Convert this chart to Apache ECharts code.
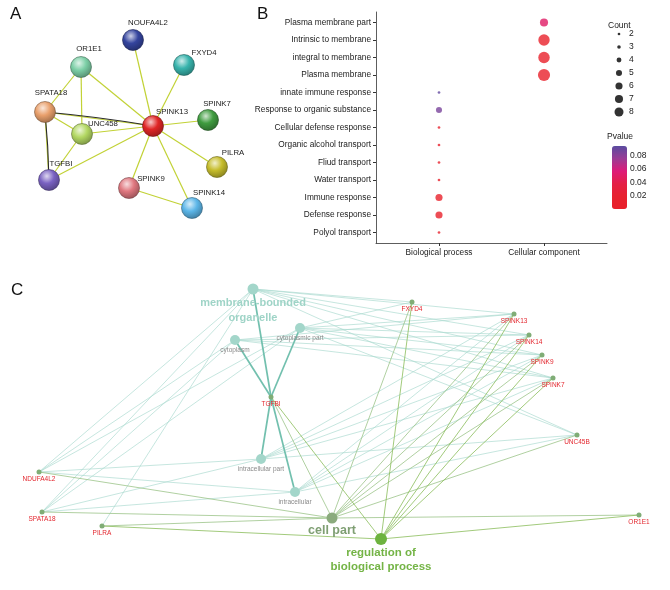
<!DOCTYPE html>
<html><head><meta charset="utf-8">
<script src="https://cdn.jsdelivr.net/npm/echarts@6/dist/echarts.min.js"></script>
<style>html,body{margin:0;padding:0;background:#fff}#c{width:670px;height:590px}</style>
</head><body><div id="c"></div>
<script>
// ---------------- Panel A : STRING network ----------------
const aGenes = ['NOUFA4L2','OR1E1','FXYD4','SPATA18','SPINK13','SPINK7','UNC458','PILRA','TGFBI','SPINK9','SPINK14'];
const aX = [133, 81, 184, 45, 153, 208, 82, 217, 49, 129, 192];
const aY = [40, 67, 65, 112, 126, 120, 134, 167, 180, 188, 208];
const aLinks = [
  ['SPINK13','NOUFA4L2'],['SPINK13','FXYD4'],['SPINK13','SPINK7'],['SPINK13','PILRA'],
  ['SPINK13','SPINK14'],['SPINK13','SPINK9'],['SPINK13','TGFBI'],['SPINK13','UNC458'],
  ['SPINK13','SPATA18'],['SPINK13','OR1E1'],['OR1E1','SPATA18'],['OR1E1','UNC458'],
  ['SPATA18','UNC458'],['SPATA18','TGFBI'],['UNC458','TGFBI'],['SPINK9','SPINK14']
];
const aBlackLinks = [['SPATA18','SPINK13'],['SPATA18','TGFBI']];

// ---------------- Panel B : GO dot plot ----------------
const bTerms = ['Polyol transport','Defense response','Immune response','Water transport','Fliud transport',
  'Organic alcohol transport','Cellular defense response','Response to organic substance','innate immune response',
  'Plasma membrane','integral to membrane','Intrinsic to membrane','Plasma membrane part'];
const bGroups = ['Biological process','Cellular component'];
const bTermGroup = ['Biological process','Biological process','Biological process','Biological process','Biological process',
  'Biological process','Biological process','Biological process','Biological process',
  'Cellular component','Cellular component','Cellular component','Cellular component'];
const bCount = [2, 6, 6, 2, 2, 2, 2, 5, 2, 12, 11, 11, 7];
const bPvalue = [0.014, 0.004, 0.004, 0.014, 0.014, 0.014, 0.014, 0.085, 0.092, 0.004, 0.004, 0.004, 0.05];
const countBreaks = [2, 3, 4, 5, 6, 7, 8];
const pvalueTicks = [0.02, 0.04, 0.06, 0.08];
const pvalueRange = [0.001, 0.094];

// ---------------- Panel C : gene / GO term network ----------------
const cNodes = ['membrane-bounded\norganelle','cytoplasmic part','cytoplasm','intracellular part','intracellular',
  'cell part','regulation of\nbiological process',
  'TGFBI','FXYD4','SPINK13','SPINK14','SPINK9','SPINK7','UNC45B','OR1E1','NDUFA4L2','SPATA18','PILRA'];
const cX = [253, 300, 235, 261, 295, 332, 381, 271, 412, 514, 529, 542, 553, 577, 639, 39, 42, 102];
const cY = [289, 328, 340, 459, 492, 518, 539, 397, 302, 314, 335, 355, 378, 435, 515, 472, 512, 526];
const cKind = ['cc','ccs','ccs','ccs','ccs','cellpart','reg','gene','gene','gene','gene','gene','gene','gene','gene','gene','gene','gene'];
const MBO = 'membrane-bounded\norganelle', CP = 'cytoplasmic part', CY = 'cytoplasm', IP = 'intracellular part', IC = 'intracellular';
const CELL = 'cell part', REG = 'regulation of\nbiological process';
const cLinksCC = [
  ['NDUFA4L2',MBO],['NDUFA4L2',CY],['NDUFA4L2',CP],['NDUFA4L2',IP],['NDUFA4L2',IC],
  ['SPATA18',MBO],['SPATA18',CY],['SPATA18',CP],['SPATA18',IP],['SPATA18',IC],
  ['PILRA',MBO],['FXYD4',MBO],['FXYD4',CP],
  ['SPINK13',MBO],['SPINK13',CY],['SPINK13',CP],['SPINK13',IP],['SPINK13',IC],
  ['SPINK14',MBO],['SPINK14',CY],['SPINK14',CP],['SPINK14',IP],['SPINK14',IC],
  ['SPINK9',MBO],['SPINK9',CY],['SPINK9',CP],['SPINK9',IP],['SPINK9',IC],
  ['SPINK7',MBO],['SPINK7',CY],['SPINK7',CP],['SPINK7',IP],['SPINK7',IC],
  ['UNC45B',MBO],['UNC45B',CP],['UNC45B',IP],['UNC45B',IC]
];
const cLinksTGFBI = [['TGFBI',MBO],['TGFBI',CY],['TGFBI',CP],['TGFBI',IP],['TGFBI',IC]];
const cLinksCell = ['NDUFA4L2','SPATA18','PILRA','TGFBI','FXYD4','SPINK13','SPINK14','SPINK9','SPINK7','UNC45B','OR1E1'];
const cLinksReg = ['PILRA','TGFBI','FXYD4','SPINK13','SPINK14','SPINK9','SPINK7','OR1E1'];

// ---------------- styles ----------------
const NARROW = '"Liberation Sans",Arial,sans-serif';
const ARIAL = '"Liberation Sans",Arial,sans-serif';
const aColors = {NOUFA4L2:'#34449e',OR1E1:'#7ccfa6',FXYD4:'#38b4ad',SPATA18:'#e9a06c',SPINK13:'#e02626',
  SPINK7:'#3f9c3f',UNC458:'#b3d863',PILRA:'#c6bd2c',TGFBI:'#7a62c2',SPINK9:'#e07880',SPINK14:'#5cb6e8'};
const aLabelOffset = {NOUFA4L2:[15,-17],OR1E1:[8,-18],FXYD4:[20,-12],SPATA18:[6,-19],SPINK13:[19,-14],
  SPINK7:[9,-16],UNC458:[21,-10],PILRA:[16,-14],TGFBI:[12,-16],SPINK9:[22,-9],SPINK14:[17,-15]};
function shade(hex, f) {
  const n = parseInt(hex.slice(1), 16);
  let r = n >> 16, g = (n >> 8) & 255, b = n & 255;
  if (f > 0) { r += (255 - r) * f; g += (255 - g) * f; b += (255 - b) * f; }
  else { r *= 1 + f; g *= 1 + f; b *= 1 + f; }
  return 'rgb(' + Math.round(r) + ',' + Math.round(g) + ',' + Math.round(b) + ')';
}
function sphere(hex) {
  return { type: 'radial', x: 0.4, y: 0.32, r: 0.75, colorStops: [
    { offset: 0, color: shade(hex, 0.75) }, { offset: 0.45, color: hex }, { offset: 1, color: shade(hex, -0.35) } ] };
}
function dotSize(c) { return Math.max(2.7, 4.95 * Math.sqrt(c) - 5); }

// ---------------- build series data ----------------
const aData = aGenes.map((g, i) => ({
  name: g, value: [aX[i], aY[i]], symbolSize: 21,
  itemStyle: { color: sphere(aColors[g]), borderColor: shade(aColors[g], -0.5), borderWidth: 0.6 },
  label: { offset: aLabelOffset[g] }
}));
const aIdx = n => aGenes.indexOf(n);
const aLinkData = aLinks.map(l => ({ source: aIdx(l[0]), target: aIdx(l[1]),
  lineStyle: { color: '#c2d236', width: 1.2, opacity: 1, curveness: 0 } }))
  .concat(aBlackLinks.map(l => ({ source: aIdx(l[0]), target: aIdx(l[1]),
  lineStyle: { color: '#2a2a2a', width: 1.1, opacity: 1, curveness: 0.02 } })));

const bData = bTerms.map((t, i) => [bGroups.indexOf(bTermGroup[i]) + 1, i + 1, bCount[i], bPvalue[i]]);
const legendData = countBreaks.map(c => [0.5, c, c]);

const cStyle = {
  cc: { size: 11, color: '#a3d6ca', label: { fontSize: 11, fontWeight: 'bold', color: '#9fd4c7', lineHeight: 15, distance: 1, fontFamily: ARIAL } },
  ccs: { size: 10, color: '#a3d6ca', label: { fontSize: 6.5, color: '#8a8a8a', distance: 2, fontFamily: ARIAL } },
  cellpart: { size: 11, color: '#8bab7d', label: { fontSize: 12.5, fontWeight: 'bold', color: '#7f9f73', distance: 1, fontFamily: ARIAL } },
  reg: { size: 12, color: '#6db33f', label: { fontSize: 11.5, fontWeight: 'bold', color: '#74b446', lineHeight: 14, distance: 1, fontFamily: ARIAL } },
  gene: { size: 5, color: '#80ad76', label: { fontSize: 6.5, color: '#e3262e', distance: 1, fontFamily: ARIAL } }
};
const cData = cNodes.map((n, i) => {
  const s = cStyle[cKind[i]];
  return { name: n, value: [cX[i], cY[i]], symbolSize: s.size, itemStyle: { color: s.color },
    label: Object.assign({ show: true, position: 'bottom' }, s.label) };
});
const cIdx = n => cNodes.indexOf(n);
const cLinkData = []
  .concat(cLinksCC.map(l => ({ source: cIdx(l[0]), target: cIdx(l[1]), lineStyle: { color: '#a9d9cf', width: 0.7, opacity: 0.95 } })))
  .concat(cLinksCell.map(g => ({ source: cIdx(g), target: cIdx(CELL), lineStyle: { color: '#9cc489', width: 0.8, opacity: 1 } })))
  .concat(cLinksReg.map(g => ({ source: cIdx(g), target: cIdx(REG), lineStyle: { color: '#8abd5a', width: 0.8, opacity: 1 } })))
  .concat(cLinksTGFBI.map(l => ({ source: cIdx(l[0]), target: cIdx(l[1]), lineStyle: { color: '#72c0ae', width: 1.7, opacity: 1 } })));

const hiddenAxis = (gi, min, max, inverse) => ({ type: 'value', gridIndex: gi, min, max, inverse: !!inverse, show: false });
const axisCol = '#333';

const option = {
  animation: false,
  backgroundColor: '#fff',
  title: [
    { text: 'A', left: 10, top: 6, padding: 0, textStyle: { fontSize: 17, fontWeight: 'normal', color: '#111', fontFamily: NARROW } },
    { text: 'B', left: 257, top: 6, padding: 0, textStyle: { fontSize: 17, fontWeight: 'normal', color: '#111', fontFamily: NARROW } },
    { text: 'C', left: 11, top: 282, padding: 0, textStyle: { fontSize: 17, fontWeight: 'normal', color: '#111', fontFamily: NARROW } },
    { text: 'Count', left: 608, top: 21, padding: 0, textStyle: { fontSize: 8.5, fontWeight: 'normal', color: '#222', fontFamily: NARROW } },
    { text: 'Pvalue', left: 607, top: 132, padding: 0, textStyle: { fontSize: 8.5, fontWeight: 'normal', color: '#222', fontFamily: NARROW } }
  ],
  grid: [
    { left: 0, top: 0, width: 250, height: 260 },
    { left: 376, top: 12, width: 231, height: 231 },
    { left: 612, top: 27.5, width: 14, height: 91 },
    { left: 612, top: 146, width: 15, height: 63 },
    { left: 0, top: 0, width: 670, height: 590 }
  ],
  xAxis: [
    hiddenAxis(0, 0, 250),
    { type: 'value', gridIndex: 1, min: 0.4, max: 2.6, splitLine: { show: false },
      axisLine: { lineStyle: { color: axisCol, width: 0.8 } },
      axisTick: { length: 3, lineStyle: { color: axisCol }, customValues: [1, 2] },
      axisLabel: { customValues: [1, 2], formatter: v => bGroups[Math.round(v) - 1] || '', fontSize: 8.3, color: '#222', fontFamily: NARROW, margin: 6 } },
    hiddenAxis(2, 0, 1),
    hiddenAxis(3, 0, 1),
    hiddenAxis(4, 0, 670)
  ],
  yAxis: [
    hiddenAxis(0, 0, 260, true),
    { type: 'value', gridIndex: 1, min: 0.4, max: 13.6, splitLine: { show: false },
      axisLine: { show: true, lineStyle: { color: axisCol, width: 0.8 } },
      axisTick: { show: true, length: 3, lineStyle: { color: axisCol }, customValues: bTerms.map((t, i) => i + 1) },
      axisLabel: { customValues: bTerms.map((t, i) => i + 1), formatter: v => bTerms[Math.round(v) - 1] || '', fontSize: 8.3, color: '#222', fontFamily: NARROW, margin: 5 } },
    { type: 'value', gridIndex: 2, min: 1.5, max: 8.5, inverse: true, position: 'right', splitLine: { show: false },
      axisLine: { show: false }, axisTick: { show: false },
      axisLabel: { customValues: countBreaks, fontSize: 8.5, color: '#222', fontFamily: NARROW, margin: 3 } },
    { type: 'value', gridIndex: 3, min: pvalueRange[0], max: pvalueRange[1], position: 'right', z: 10, splitLine: { show: false },
      axisLine: { show: false },
      axisTick: { show: true, inside: true, length: 3, lineStyle: { color: '#fff', width: 1 }, customValues: pvalueTicks },
      axisLabel: { customValues: pvalueTicks, formatter: v => v.toFixed(2), fontSize: 8.5, color: '#222', fontFamily: NARROW, margin: 3 } },
    hiddenAxis(4, 0, 590, true)
  ],
  visualMap: [{
    type: 'continuous', seriesIndex: 2, dimension: 3, min: pvalueRange[0], max: pvalueRange[1],
    left: 612, top: 146, itemWidth: 15, itemHeight: 63, padding: 0, calculable: false, hoverLink: false,
    text: null, showLabel: false,
    inRange: { color: ['#e8202a', '#e7212f', '#e41f45', '#de1a78', '#9a3c95', '#5a4ba0'] }
  }],
  series: [
    { type: 'graph', coordinateSystem: 'cartesian2d', xAxisIndex: 4, yAxisIndex: 4, silent: true, z: 1,
      data: cData, links: cLinkData, edgeSymbol: ['none', 'none'] },
    { type: 'graph', coordinateSystem: 'cartesian2d', xAxisIndex: 0, yAxisIndex: 0, silent: true, z: 2,
      label: { show: true, position: 'inside', fontSize: 7.8, color: '#222', fontFamily: NARROW },
      data: aData, links: aLinkData, edgeSymbol: ['none', 'none'] },
    { type: 'scatter', xAxisIndex: 1, yAxisIndex: 1, data: bData, symbolSize: v => dotSize(v[2]), z: 3 },
    { type: 'scatter', xAxisIndex: 2, yAxisIndex: 2, data: legendData, symbolSize: v => dotSize(v[2]),
      itemStyle: { color: '#000' }, silent: true }
  ]
};
const chart = echarts.init(document.getElementById('c'), null, { renderer: 'canvas' });
chart.setOption(option);
</script></body></html>
